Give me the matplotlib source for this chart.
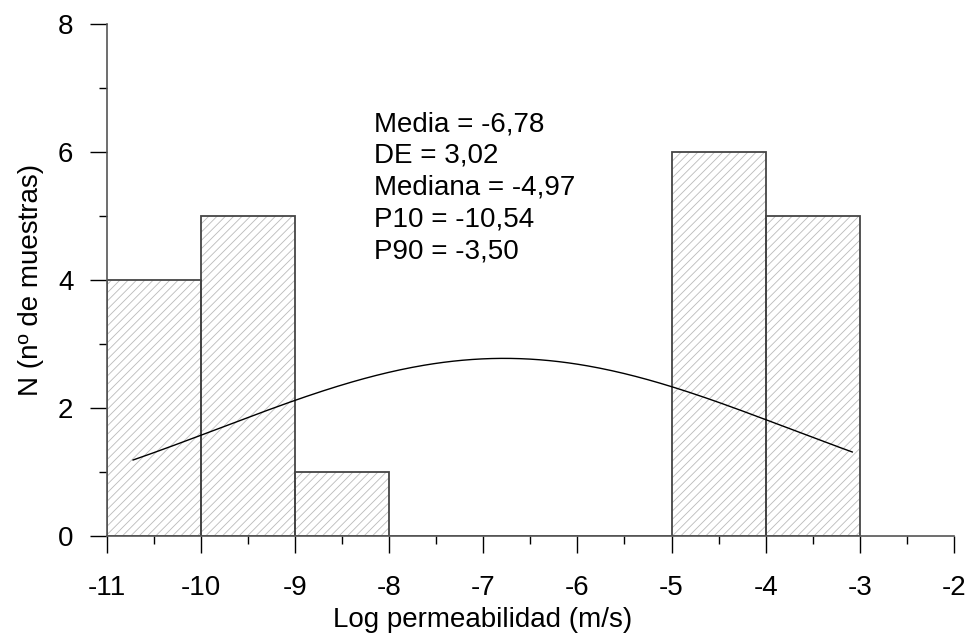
import numpy as np
import matplotlib
matplotlib.use("Agg")
import matplotlib.pyplot as plt
from matplotlib.ticker import MultipleLocator

plt.rcParams['font.family'] = ['Liberation Sans', 'DejaVu Sans']
plt.rcParams['axes.unicode_minus'] = False
plt.rcParams['hatch.linewidth'] = 0.6

# histogram of log permeability (bin edges and counts)
bin_left = [-11, -10, -9, -8, -7, -6, -5, -4]
counts = [4, 5, 1, 0, 0, 0, 6, 5]
bin_width = 1.0

# summary statistics shown in the text box
media = -6.78
de = 3.02
mediana = -4.97
p10 = -10.54
p90 = -3.50
stats_lines = ["Media = -6,78", "DE = 3,02", "Mediana = -4,97",
               "P10 = -10,54", "P90 = -3,50"]

# extent of the fitted normal curve
curve_start = -10.72
curve_end = -3.08

fig = plt.figure(figsize=(9.66, 6.33), dpi=100)
ax = fig.add_axes([0.1105, 0.1537, 0.877, 0.8079])

n_total = sum(counts)
# hatched fill first, then the dark outlines on top
ax.bar(bin_left, counts, width=bin_width, align='edge', color='white',
       edgecolor='#bababa', hatch='////', linewidth=0, zorder=1)
ax.bar(bin_left, counts, width=bin_width, align='edge', fill=False,
       edgecolor='#454545', linewidth=1.3, zorder=2)

# normal curve scaled to the histogram counts
xs = np.linspace(curve_start, curve_end, 300)
ys = n_total * bin_width / (de * np.sqrt(2 * np.pi)) * np.exp(-0.5 * ((xs - media) / de) ** 2)
ax.plot(xs, ys, color='black', linewidth=1.0, zorder=3)

y0 = 6.44
for i, line in enumerate(stats_lines):
    ax.text(-8.16, y0 - 0.5 * i, line, fontsize=20, ha='left', va='center')

ax.set_xlim(-11, -2)
ax.set_ylim(0, 8)
ax.xaxis.set_major_locator(MultipleLocator(1))
ax.xaxis.set_minor_locator(MultipleLocator(0.5))
ax.yaxis.set_major_locator(MultipleLocator(2))
ax.yaxis.set_minor_locator(MultipleLocator(1))

for side in ['top', 'right']:
    ax.spines[side].set_visible(False)
for side in ['left', 'bottom']:
    ax.spines[side].set_color('#555555')
    ax.spines[side].set_linewidth(1.2)

ax.tick_params(which='major', direction='out', length=12, width=1.0,
               color='black', labelsize=20, pad=12)
ax.tick_params(which='minor', direction='out', length=6, width=1.0, color='black')
ax.tick_params(axis='x', which='major', pad=16)

ax.set_xlabel("Log permeabilidad (m/s)", fontsize=20)
ax.set_ylabel("N (nº de muestras)", fontsize=20)
ax.xaxis.set_label_coords(0.444, -0.14)
ax.yaxis.set_label_coords(-0.074, 0.5)

fig.savefig("out.png", dpi=100)
